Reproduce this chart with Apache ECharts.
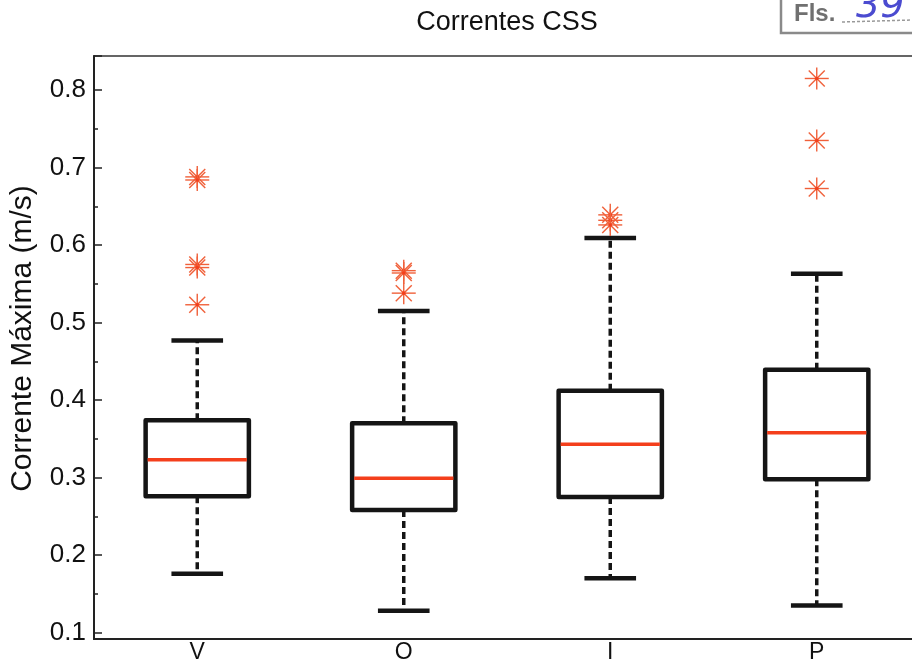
<!DOCTYPE html>
<html>
<head>
<meta charset="utf-8">
<script src="https://cdn.jsdelivr.net/npm/echarts@6/dist/echarts.min.js"></script>
<style>
  html, body { margin: 0; padding: 0; background: #ffffff; }
  #chart { width: 912px; height: 663px; }
</style>
</head>
<body>
<div id="chart"></div>
<script>
// ---- data ----
const categories = ['V', 'O', 'I', 'P'];
const lowerWhisker = [0.176, 0.128, 0.170, 0.135];
const q1 = [0.276, 0.258, 0.275, 0.298];
const median = [0.323, 0.299, 0.343, 0.358];
const q3 = [0.374, 0.370, 0.412, 0.439];
const upperWhisker = [0.477, 0.515, 0.609, 0.563];
const outlierCategory = [0, 0, 0, 0, 0, 1, 1, 1, 2, 2, 2, 3, 3, 3];
const outlierValue = [0.688, 0.684, 0.575, 0.571, 0.523, 0.567, 0.564, 0.538, 0.639, 0.632, 0.626, 0.815, 0.735, 0.673];
const yTickLabels = ['0.1', '0.2', '0.3', '0.4', '0.5', '0.6', '0.7', '0.8'];

const yMin = 0.0917, yMax = 0.844;

const boxData = categories.map((c, i) => [i, lowerWhisker[i], q1[i], median[i], q3[i], upperWhisker[i]]);
const outlierData = outlierCategory.map((c, i) => [c, outlierValue[i]]);

const BLACK = '#151515';
const RED = '#f43f1c';
const STAR = '#f0603a';

function renderBox(params, api) {
  const idx = api.value(0);
  const lo = api.coord([idx, api.value(1)]);
  const p1 = api.coord([idx, api.value(2)]);
  const pm = api.coord([idx, api.value(3)]);
  const p3 = api.coord([idx, api.value(4)]);
  const hi = api.coord([idx, api.value(5)]);
  const band = api.size([1, 0])[0];
  const bw = band * 0.5;
  const cw = bw * 0.5;
  const x = lo[0];
  const dash = { stroke: BLACK, lineWidth: 3.5, lineDash: [7, 4], fill: null };
  const solid = { stroke: BLACK, lineWidth: 4.5, fill: null };
  return {
    type: 'group',
    children: [
      { type: 'line', shape: { x1: x, y1: p3[1], x2: x, y2: hi[1] }, style: dash },
      { type: 'line', shape: { x1: x, y1: p1[1], x2: x, y2: lo[1] }, style: dash },
      { type: 'line', shape: { x1: x - cw / 2, y1: hi[1], x2: x + cw / 2, y2: hi[1] }, style: solid },
      { type: 'line', shape: { x1: x - cw / 2, y1: lo[1], x2: x + cw / 2, y2: lo[1] }, style: solid },
      { type: 'rect', shape: { x: x - bw / 2, y: p3[1], width: bw, height: p1[1] - p3[1] }, style: { stroke: BLACK, lineWidth: 4.5, fill: 'rgba(0,0,0,0)', lineJoin: 'round' } },
      { type: 'line', shape: { x1: x - bw / 2 + 2, y1: pm[1], x2: x + bw / 2 - 2, y2: pm[1] }, style: { stroke: RED, lineWidth: 3.5 } }
    ]
  };
}

function renderStar(params, api) {
  const p = api.coord([api.value(0), api.value(1)]);
  const r = 11, d = 8;
  const st = { stroke: STAR, lineWidth: 1.4 };
  return {
    type: 'group',
    children: [
      { type: 'line', shape: { x1: p[0], y1: p[1] - r, x2: p[0], y2: p[1] + r }, style: st },
      { type: 'line', shape: { x1: p[0] - r - 1, y1: p[1], x2: p[0] + r + 1, y2: p[1] }, style: st },
      { type: 'line', shape: { x1: p[0] - d, y1: p[1] - d, x2: p[0] + d, y2: p[1] + d }, style: st },
      { type: 'line', shape: { x1: p[0] - d, y1: p[1] + d, x2: p[0] + d, y2: p[1] - d }, style: st },
      { type: 'circle', shape: { cx: p[0], cy: p[1], r: 1.8 }, style: { fill: RED } }
    ]
  };
}

const chart = echarts.init(document.getElementById('chart'), null, { renderer: 'canvas' });
const FONT = 'Liberation Sans, Arial, Helvetica, sans-serif';

chart.setOption({
  backgroundColor: '#ffffff',
  animation: false,
  title: {
    text: 'Correntes CSS',
    left: 507,
    textAlign: 'center',
    top: 9,
    padding: 0,
    textStyle: { fontFamily: FONT, fontSize: 27, fontWeight: 'normal', color: '#111' }
  },
  graphic: [
    { type: 'rect', shape: { x: 781, y: -6, width: 170, height: 39 }, style: { stroke: '#8a8a8a', lineWidth: 2.5, fill: 'rgba(0,0,0,0)' } },
    { type: 'text', x: 794, y: 14, style: { text: 'Fls.', font: 'bold 24px Liberation Sans, Arial, sans-serif', fill: '#707070', verticalAlign: 'middle' } },
    { type: 'line', shape: { x1: 842, y1: 22, x2: 912, y2: 20 }, style: { stroke: '#999', lineWidth: 1.5, lineDash: [3, 2] } },
    { type: 'text', x: 856, y: 26, style: { text: '39', font: 'italic 38px DejaVu Sans, sans-serif', fill: '#4b4bd0', verticalAlign: 'bottom' } }
  ],
  grid: {
    left: 94, top: 56, width: 826, height: 583,
    outerBoundsMode: 'none',
    containLabel: false,
    show: true, borderColor: '#333', borderWidth: 1.5, backgroundColor: 'rgba(0,0,0,0)'
  },
  xAxis: {
    type: 'category',
    data: categories,
    axisLine: { show: true, lineStyle: { color: '#222', width: 2 } },
    axisTick: { show: false },
    axisLabel: { fontFamily: FONT, fontSize: 23, color: '#111', margin: 2 },
    splitLine: { show: false }
  },
  yAxis: [
    {
      type: 'value',
      min: yMin, max: yMax,
      minInterval: 0.1, maxInterval: 0.1, splitNumber: 7,
      axisLine: { show: true, lineStyle: { color: '#222', width: 2 } },
      axisTick: { show: true, inside: true, length: 8, lineStyle: { color: '#222', width: 1.5 } },
      splitLine: { show: false },
      axisLabel: {
        fontFamily: FONT, fontSize: 26, color: '#111', margin: 8,
        formatter: function (v) {
          const lbl = v.toFixed(1);
          return (Math.abs(v - parseFloat(lbl)) < 1e-6 && yTickLabels.indexOf(lbl) >= 0) ? lbl : '';
        }
      },
      name: 'Corrente Máxima (m/s)',
      nameLocation: 'middle',
      nameGap: 56,
      nameTextStyle: { fontFamily: FONT, fontSize: 30, color: '#111', padding: [0, 0, 0, 18] }
    },
    {
      type: 'value',
      min: yMin, max: yMax,
      minInterval: 0.05, maxInterval: 0.05, splitNumber: 15,
      position: 'left',
      axisLine: { show: false },
      axisTick: { show: true, inside: true, length: 4, lineStyle: { color: '#222', width: 1.5 } },
      axisLabel: { show: false },
      splitLine: { show: false }
    }
  ],
  series: [
    {
      type: 'custom',
      name: 'box',
      renderItem: renderBox,
      data: boxData,
      encode: { x: 0, y: [1, 2, 3, 4, 5] },
      z: 3
    },
    {
      type: 'custom',
      name: 'outliers',
      renderItem: renderStar,
      data: outlierData,
      encode: { x: 0, y: 1 },
      z: 4
    }
  ]
});
</script>
</body>
</html>
